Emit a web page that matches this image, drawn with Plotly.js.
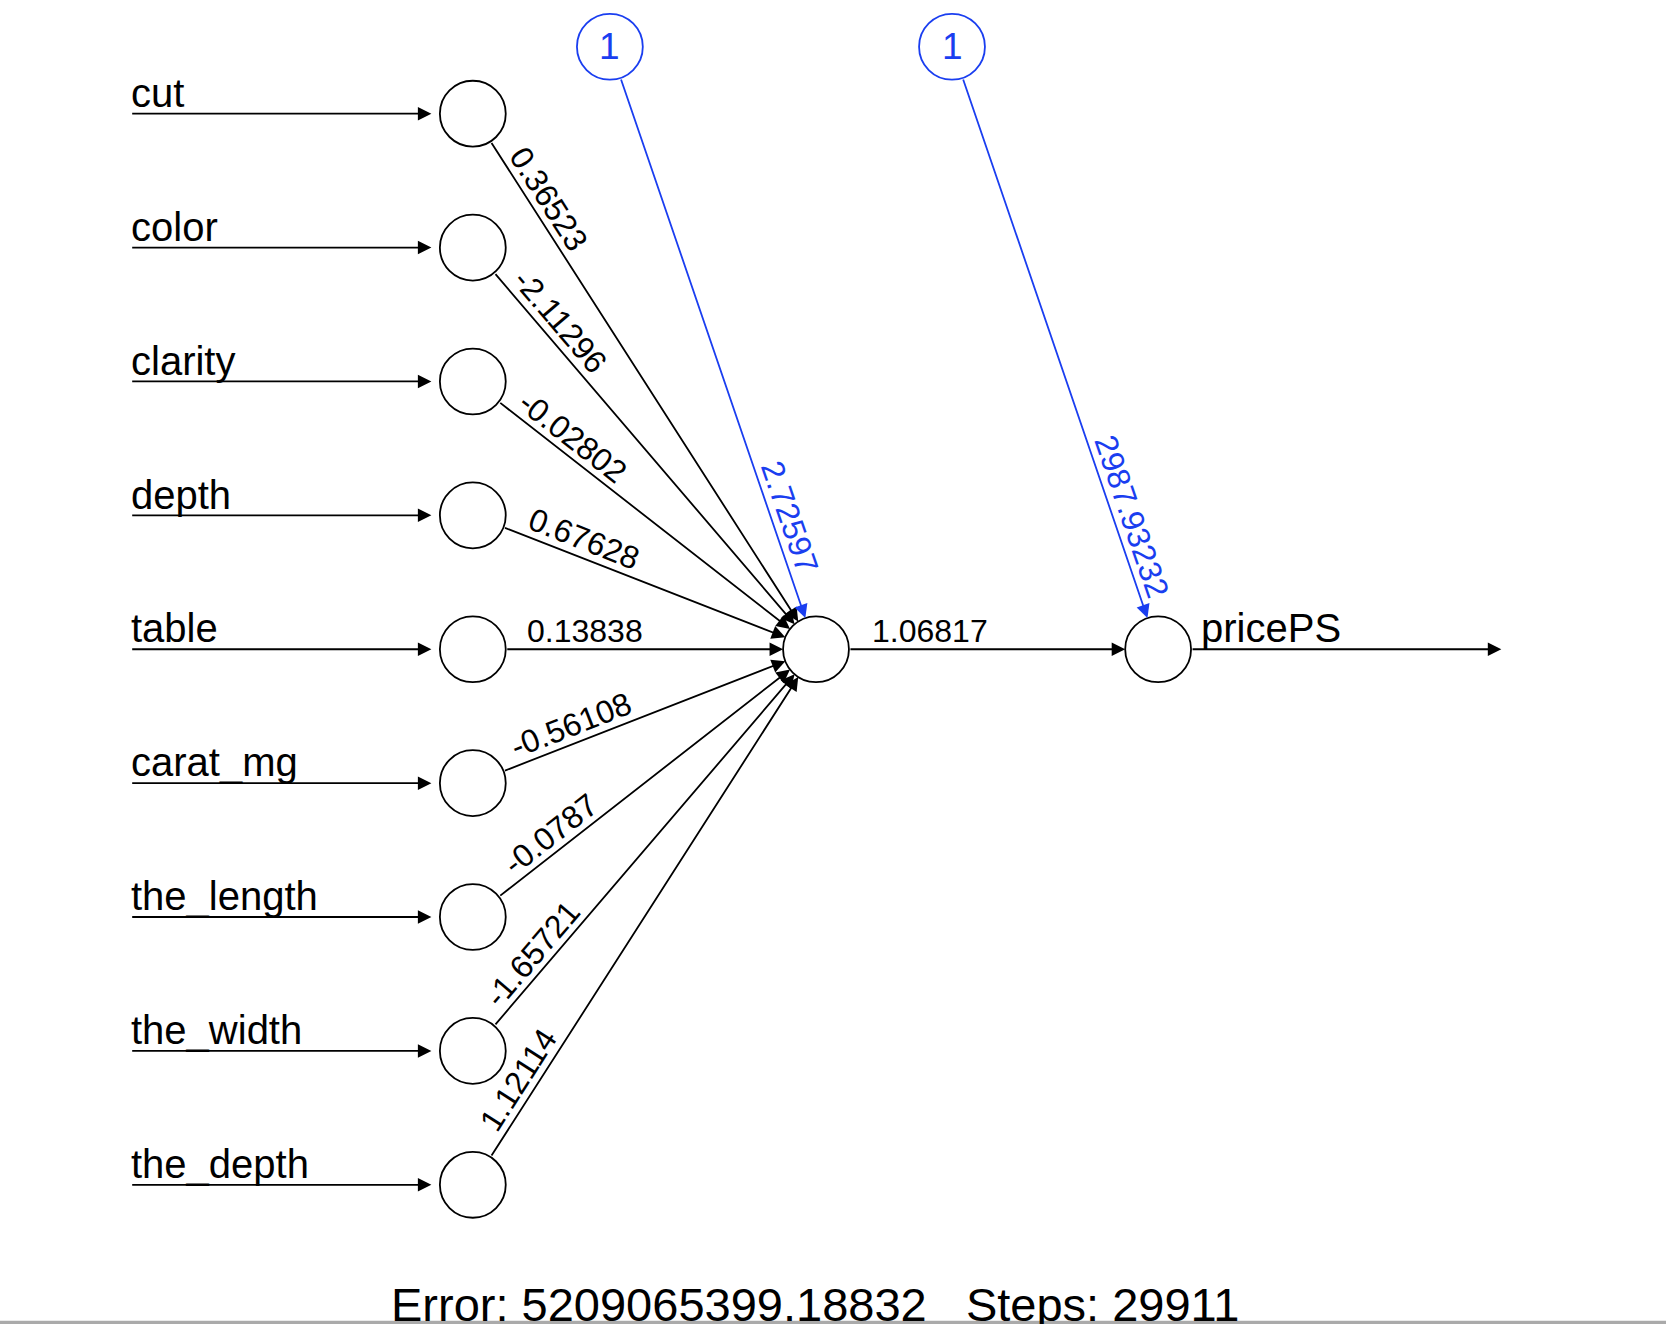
<!DOCTYPE html>
<html>
<head>
<meta charset="utf-8">
<script src="https://cdn.plot.ly/plotly-3.0.1.min.js"></script>
<style>body{margin:0;background:#fff}#chart{width:1666px;height:1324px}</style>
</head>
<body>
<div id="chart"></div>
<script>
var inputNames = ["cut","color","clarity","depth","table","carat_mg","the_length","the_width","the_depth"]
var inputWeights = ["0.36523","-2.11296","-0.02802","0.67628","0.13838","-0.56108","-0.0787","-1.65721","1.12114"]
var hiddenWeight = "1.06817"
var biasWeights = ["2.72597","2987.93232"]
var outputName = "pricePS"
var errorText = "Error: 5209065399.18832   Steps: 29911"

// layout in the 1568x1246 frame of the picture
var R = 31
var xIn = 445, xHid = 768, xOut = 1090, yTop = 107, yGap = 126
var yMid = yTop + 4*yGap
var biasY = 44
var blue = "#1a3ef0"
var fontFam = "Liberation Sans, Arial, sans-serif"

var shapes = [], ann = []

function circle(x, y, col){
	shapes.push({type:"circle", xref:"x", yref:"y", x0:x-R, x1:x+R, y0:y-R, y1:y+R,
		line:{color:col, width:1.8}, fillcolor:"rgba(0,0,0,0)"})
}
function arrow(x0, y0, x1, y1, col){
	ann.push({x:x1, y:y1, ax:x0, ay:y0, xref:"x", yref:"y", axref:"x", ayref:"y",
		showarrow:true, arrowhead:2, arrowsize:1.5, arrowwidth:1.8, arrowcolor:col, text:""})
}
function edge(x0, y0, x1, y1, col, label, dist){
	var dx = x1-x0, dy = y1-y0, len = Math.sqrt(dx*dx+dy*dy)
	var ux = dx/len, uy = dy/len
	arrow(x0+ux*R, y0+uy*R, x1-ux*R, y1-uy*R, col)
	var a = Math.atan2(dy, dx)
	var off = 17
	ann.push({x:x0+ux*dist+Math.sin(a)*off, y:y0+uy*dist-Math.cos(a)*off, xref:"x", yref:"y",
		text:label, showarrow:false, textangle:a*180/Math.PI,
		font:{family:fontFam, size:32, color:col}})
}

inputNames.forEach((name,i) => {
	var y = yTop + i*yGap
	circle(xIn, y, "black")
	arrow(123, y, xIn-R-8, y, "black")
	ann.push({x:121, y:y+3, xref:"x", yref:"y", text:name, showarrow:false, xanchor:"left", yanchor:"bottom",
		font:{family:fontFam, size:40, color:"black"}})
	edge(xIn, y, xHid, yMid, "black", inputWeights[i], 106)
})

circle(xHid, yMid, "black")
circle(xOut, yMid, "black")
edge(xHid, yMid, xOut, yMid, "black", hiddenWeight, 107)

var biasX = [xHid-194, xOut-194]
var targets = [xHid, xOut]
biasWeights.forEach((w,i) => {
	circle(biasX[i], biasY, blue)
	ann.push({x:biasX[i], y:biasY, xref:"x", yref:"y", text:"1", showarrow:false,
		font:{family:fontFam, size:37, color:blue}})
	var dx = targets[i]-biasX[i], dy = yMid-biasY
	edge(biasX[i], biasY, targets[i], yMid, blue, w, 0.79*Math.sqrt(dx*dx+dy*dy))
})

arrow(xOut+R, yMid, 1413, yMid, "black")
ann.push({x:1128, y:yMid+3, xref:"x", yref:"y", text:outputName, showarrow:false, xanchor:"left", yanchor:"bottom",
	font:{family:fontFam, size:40, color:"black"}})

ann.push({x:767, y:1228, xref:"x", yref:"y", text:errorText, showarrow:false,
	font:{family:fontFam, size:47, color:"black"}})
shapes.push({type:"rect", xref:"x", yref:"y", x0:0, x1:1568, y0:1243, y1:1246, line:{width:0}, fillcolor:"#aaaaaa"})

var layout = {
	width:1666, height:1324, margin:{l:0,r:0,t:0,b:0},
	paper_bgcolor:"white", plot_bgcolor:"white",
	xaxis:{range:[0,1568], visible:false, fixedrange:true},
	yaxis:{range:[1246,0], visible:false, fixedrange:true},
	shapes:shapes, annotations:ann, showlegend:false
}
Plotly.newPlot("chart", [{x:[], y:[], type:"scatter"}], layout, {displayModeBar:false})
</script>
</body>
</html>
